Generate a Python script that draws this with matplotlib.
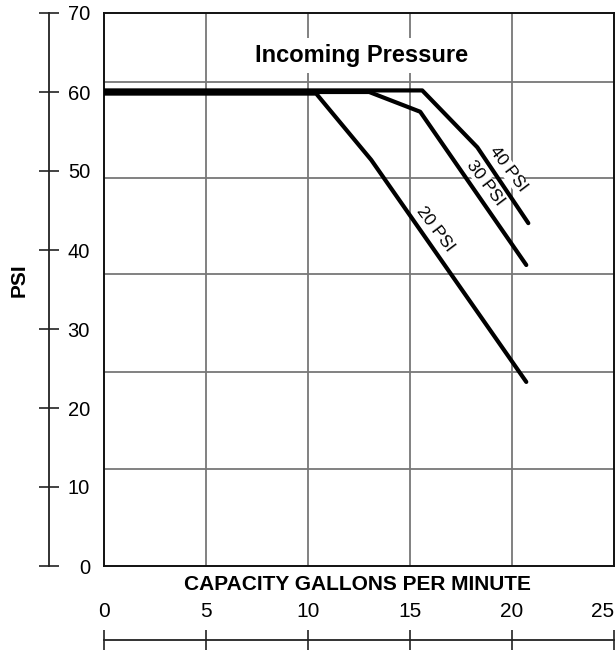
import matplotlib.pyplot as plt
from matplotlib import font_manager
import numpy as np

plt.rcParams['font.family'] = ['Liberation Sans', 'DejaVu Sans']

# curves (gpm, psi)
gpm_20 = [0, 10.4, 13.1, 20.7]
psi_20 = [59.8, 59.8, 51.4, 23.3]
gpm_30 = [0, 13.0, 15.5, 20.7]
psi_30 = [60.0, 60.0, 57.5, 38.1]
gpm_40 = [0, 15.6, 18.3, 20.8]
psi_40 = [60.2, 60.2, 53.0, 43.4]

# horizontal grid lines in the box (not on the tick values)
h_grid = [12.3, 24.6, 36.9, 49.1, 61.3]
v_grid = [5, 10, 15, 20]

x_ticks = [0, 5, 10, 15, 20, 25]
y_ticks = [0, 10, 20, 30, 40, 50, 60, 70]

names = {f.name for f in font_manager.fontManager.ttflist}
narrow = 'Liberation Sans Narrow' if 'Liberation Sans Narrow' in names else 'Liberation Sans'

fig = plt.figure(figsize=(6.15, 6.52), dpi=100)
ax = fig.add_axes([104/615, 86/652, 510/615, 553/652])
ax.set_xlim(0, 25)
ax.set_ylim(0, 70)
ax.set_xticks([])
ax.set_yticks([])
for s in ax.spines.values():
    s.set_linewidth(1.4)
    s.set_color('#111111')

for g in h_grid:
    ax.axhline(g, color='#777777', lw=1.3, zorder=1)
for g in v_grid:
    ax.axvline(g, color='#777777', lw=1.3, zorder=1)

for xs, ys in [(gpm_20, psi_20), (gpm_30, psi_30), (gpm_40, psi_40)]:
    ax.plot(xs, ys, color='black', lw=3, solid_capstyle='round', zorder=3)

lbl = dict(rotation=-53, rotation_mode='anchor', ha='center', va='center',
           fontsize=12.5, zorder=4,
           bbox=dict(facecolor='white', edgecolor='none', pad=0.5))
ax.text(19.8, 50.2, '40 PSI', **lbl)
ax.text(18.7, 48.5, '30 PSI', **lbl)
ax.text(16.25, 42.7, '20 PSI', **lbl)

ax.text(12.65, 64.6, 'Incoming Pressure', ha='center', va='center',
        fontsize=17, fontweight='bold', zorder=5,
        bbox=dict(facecolor='white', edgecolor='none', pad=4))

# separate left psi scale
ay = fig.add_axes([49/615, 86/652, 0.0001, 553/652])
ay.set_ylim(0, 70)
for k in ['left', 'top', 'bottom']:
    ay.spines[k].set_visible(False)
ay.spines['right'].set_linewidth(1.3)
ay.spines['right'].set_color('#222222')
ay.set_xticks([])
ay.yaxis.tick_right()
ay.set_yticks(y_ticks)
ay.tick_params(axis='y', direction='inout', length=14.4, width=1.2,
               colors='#222222', labelsize=14.5, pad=22.3, labelcolor='black')
for t in ay.get_yticklabels():
    t.set_horizontalalignment('right')

# separate bottom gpm scale
axx = fig.add_axes([104/615, 12/652, 510/615, 0.0001])
axx.set_xlim(0, 25)
for k in ['left', 'right', 'bottom']:
    axx.spines[k].set_visible(False)
axx.spines['top'].set_linewidth(1.3)
axx.spines['top'].set_color('#222222')
axx.set_yticks([])
axx.xaxis.tick_top()
axx.set_xticks(x_ticks)
axx.tick_params(axis='x', direction='inout', length=14.4, width=1.2,
                colors='#222222', pad=6.5, labelcolor='black')
for t in axx.get_xticklabels():
    t.set_fontfamily(narrow)
    t.set_fontsize(15)
axx.get_xticklabels()[-1].set_horizontalalignment('right')

fig.text(357/615, 1 - 585/652, 'CAPACITY GALLONS PER MINUTE', ha='center',
         va='center', fontsize=15, fontweight='bold')
fig.text(19/615, 1 - 280/652, 'PSI', ha='center', va='center', rotation=90,
         fontsize=15, fontweight='bold')

fig.savefig('out.png', dpi=100)
